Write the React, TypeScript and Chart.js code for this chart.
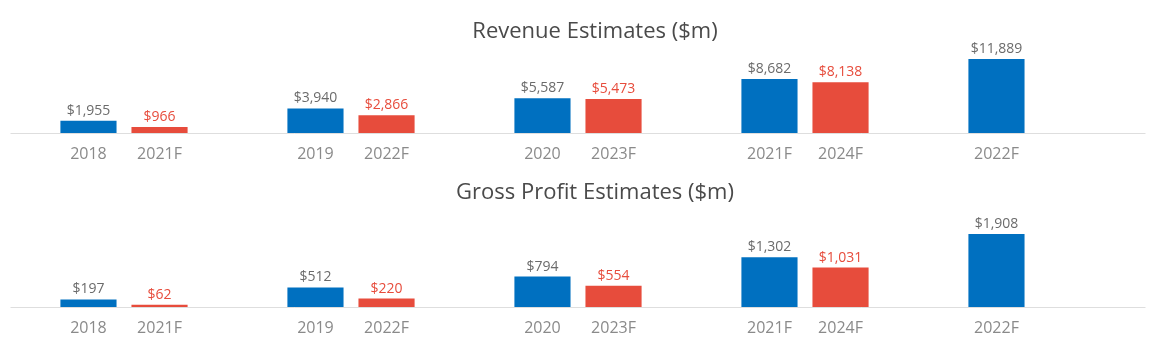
import React, { useEffect, useRef } from "react";
import { Chart, registerables } from "chart.js";

Chart.register(...registerables);

const groups = ["G1", "G2", "G3", "G4", "G5"];
const actualYears = ["2018", "2019", "2020", "2021F", "2022F"];
const forecastYears = ["2021F", "2022F", "2023F", "2024F", ""];

const revenueActual = [1955, 3940, 5587, 8682, 11889];
const revenueForecast: (number | null)[] = [966, 2866, 5473, 8138, null];

const grossActual = [197, 512, 794, 1302, 1908];
const grossForecast: (number | null)[] = [62, 220, 554, 1031, null];

const BLUE = "#0070c0";
const RED = "#e74c3c";
const FONT = "'Open Sans', 'Noto Sans', sans-serif";

const fmt = (v: number) => "$" + v.toLocaleString("en-US");

const labelPlugin = {
  id: "barLabels",
  beforeDatasetsDraw(chart: any) {
    const { ctx, chartArea } = chart;
    ctx.save();
    ctx.strokeStyle = "#dedede";
    ctx.lineWidth = 1;
    ctx.beginPath();
    ctx.moveTo(chartArea.left, Math.round(chartArea.bottom) + 0.5);
    ctx.lineTo(chartArea.right, Math.round(chartArea.bottom) + 0.5);
    ctx.stroke();
    ctx.restore();
  },
  afterDatasetsDraw(chart: any, _args: any, opts: any) {
    const { ctx, chartArea } = chart;
    ctx.save();
    ctx.textAlign = "center";
    ctx.textBaseline = "middle";
    ctx.font = `22px ${FONT}`;
    ctx.fillStyle = "#4a4a4a";
    ctx.fillText(opts.title, opts.titleX, opts.titleY);
    ctx.textBaseline = "alphabetic";
    chart.data.datasets.forEach((ds: any, di: number) => {
      const meta = chart.getDatasetMeta(di);
      const names: string[] = ds.tickNames;
      meta.data.forEach((el: any, i: number) => {
        const v = ds.data[i];
        if (v === null || v === undefined) return;
        ctx.font = `14px ${FONT}`;
        ctx.fillStyle = ds.valueColor;
        ctx.fillText(fmt(v), el.x, el.y - 6);
        ctx.font = `16px ${FONT}`;
        ctx.fillStyle = "#8a8a8a";
        ctx.fillText(names[i], el.x, chartArea.bottom + 26);
      });
    });
    ctx.restore();
  },
};

type PanelProps = {
  title: string;
  actual: number[];
  forecast: (number | null)[];
  height: number;
  titleY: number;
  areaTop: number;
  yMax: number;
};

function Panel({ title, actual, forecast, height, titleY, areaTop, yMax }: PanelProps) {
  const ref = useRef<HTMLCanvasElement | null>(null);
  useEffect(() => {
    if (!ref.current) return;
    const chart = new Chart(ref.current, {
      type: "bar",
      data: {
        labels: groups,
        datasets: [
          {
            data: actual,
            backgroundColor: BLUE,
            categoryPercentage: 0.626,
            barPercentage: 0.79,
            tickNames: actualYears,
            valueColor: "#6b6b6b",
          } as any,
          {
            data: forecast,
            backgroundColor: RED,
            categoryPercentage: 0.626,
            barPercentage: 0.79,
            tickNames: forecastYears,
            valueColor: RED,
          } as any,
        ],
      },
      options: {
        animation: false,
        responsive: false,
        layout: { padding: { left: 10.5, right: 25.5, top: areaTop, bottom: 42 } },
        plugins: {
          legend: { display: false },
          tooltip: { enabled: false },
          title: { display: false },
          barLabels: { title, titleX: 595, titleY },
        } as any,
        scales: {
          x: { display: false, grid: { display: false } },
          y: { display: false, min: 0, max: yMax, grid: { display: false } },
        },
      },
      plugins: [labelPlugin],
    });
    return () => chart.destroy();
  }, []);
  return <canvas ref={ref} width={1171} height={height} style={{ display: "block" }} />;
}

export default function App() {
  return (
    <div style={{ position: "absolute", left: 0, top: 0, width: 1171, height: 349, background: "#fff" }}>
      <Panel
        title="Revenue Estimates ($m)"
        actual={revenueActual}
        forecast={revenueForecast}
        height={175}
        titleY={32}
        areaTop={50}
        yMax={13334}
      />
      <Panel
        title="Gross Profit Estimates ($m)"
        actual={grossActual}
        forecast={grossForecast}
        height={174}
        titleY={18}
        areaTop={45}
        yMax={2274}
      />
    </div>
  );
}
